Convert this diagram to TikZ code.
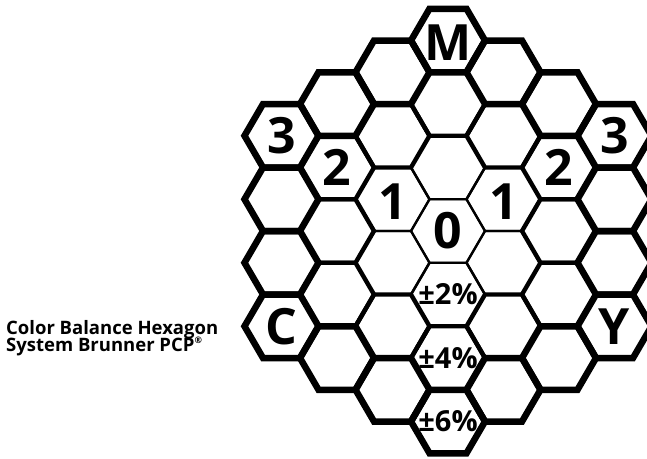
\documentclass[tikz,border=0pt]{standalone}
\usepackage{fontspec}
\setmainfont{Open Sans}

\begin{document}
\begin{tikzpicture}[x=1pt,y=-1pt,
    cell/.style={draw=black,line join=miter},
    big/.style={font=\fontsize{50}{50}\selectfont\bfseries,inner sep=0pt},
    pct/.style={font=\fontsize{29}{29}\selectfont\bfseries,inner sep=0pt},
    caption/.style={font=\fontsize{18.5}{18}\selectfont\bfseries,inner sep=0pt,anchor=base west}
  ]
  \clip (0,0) rectangle (647,458);
  % 37 cells, inner rings first so the heavier outer lines lie on top
  \foreach \ring/\lw in {0/1.8,1/2.4,2/4.4,3/6.5}
    \foreach \c in {-3,...,3}
      \foreach \r in {-3,...,3}{
        \pgfmathtruncatemacro\k{max(abs(\c),abs(\r),abs((\c)+(\r)))}
        \ifnum\k=\ring
          \pgfmathsetmacro\hx{448+55.5*(\c)}
          \pgfmathsetmacro\hy{231+63.5*((\r)+(\c)/2)}
          \coordinate (c\c r\r) at (\hx,\hy);
          \draw[cell,line width=\lw pt,shift={(\hx,\hy)}]
            (-37,0) -- (-18.5,-31.75) -- (18.5,-31.75) -- (37,0)
            -- (18.5,31.75) -- (-18.5,31.75) -- cycle;
        \fi
      }

  \node[big,yshift=-2pt] (m) at (c0r-3) {M};
  \node[big] (left3) at (c-3r0) {3};
  \node[big] (left2) at (c-2r0) {2};
  \node[big,yshift=-2pt] (left1) at (c-1r0) {1};
  \node[big] (zero) at (c0r0) {0};
  \node[big,yshift=-2pt] (right1) at (c1r-1) {1};
  \node[big] (right2) at (c2r-2) {2};
  \node[big] (right3) at (c3r-3) {3};
  \node[big] (cyan) at (c-3r3) {C};
  \node[big] (yellow) at (c3r0) {Y};
  \node[pct] (p2) at (c0r1) {±2\%};
  \node[pct] (p4) at (c0r2) {±4\%};
  \node[pct] (p6) at (c0r3) {±6\%};

  \node[caption] (title) at (6,334) {Color Balance Hexagon};
  \node[caption] (subtitle) at (6,351)
    {System Brunner PCP\raisebox{0.38em}{\fontsize{9}{9}\selectfont ®}};
\end{tikzpicture}
\end{document}
